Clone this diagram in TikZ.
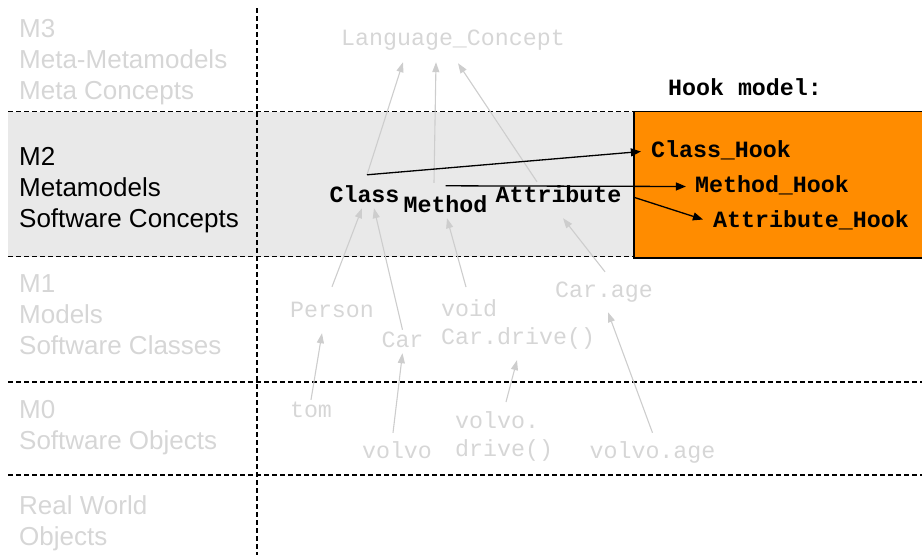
\documentclass[tikz,border=0pt]{standalone}
\usepackage{fontspec}
\setmainfont{Liberation Sans}
\setmonofont{Liberation Mono}
\usetikzlibrary{positioning,arrows.meta}

\definecolor{fadegray}{HTML}{D6D6D6}
\definecolor{fadeline}{HTML}{CDCDCD}
\definecolor{bandgray}{HTML}{E9E9E9}
\definecolor{hookorange}{HTML}{FF8C00}

\begin{document}
\begin{tikzpicture}[x=1pt,y=-1pt,
	level/.style={anchor=base west, align=left, inner sep=0pt,
		font=\fontsize{26}{31}\selectfont},
	fade/.style={text=fadegray},
	mono/.style={anchor=base, inner sep=1pt, text height=16pt, text depth=5pt,
		font=\ttfamily\fontsize{23.3}{28}\selectfont},
	concept/.style={mono, font=\ttfamily\bfseries\fontsize{23.3}{28}\selectfont},
	inst/.style={mono, text=fadegray},
	insttwo/.style={anchor=north west, align=left, inner sep=1pt, text=fadegray,
		font=\ttfamily\fontsize{23.3}{28}\selectfont},
	grid/.style={dash pattern=on 5pt off 3pt, line width=1.1pt},
	link/.style={draw=fadeline, line width=1.1pt, -{Triangle[length=10pt,width=7pt]}},
	hook/.style={draw=black, line width=1.3pt, -{Triangle[length=10pt,width=8pt]}}
	]
	\useasboundingbox (0,0) rectangle (922,555);
	\fill[bandgray] (8,111.5) rectangle (634,256.5);
	\foreach \y in {111.5,256.5,382,475}
		\draw[grid] (8,\y) -- (922,\y);
	\draw[grid] (257,8) -- (257,555);
	\draw[fill=hookorange, line width=1.3pt] (634,111.5) rectangle (930,258);

	\node (mthree) [level, fade] at (19,99) {M3\\Meta-Metamodels\\Meta Concepts};
	\node (mtwo) [level] at (19,227) {M2\\Metamodels\\Software Concepts};
	\node (mone) [level, fade] at (19,354) {M1\\Models\\Software Classes};
	\node (mzero) [level, fade] at (19,449) {M0\\Software Objects};
	\node (realworld) [level, fade] at (19,545) {Real World\\Objects};

	\node (lang) [inst] at (453,45) {Language\_Concept};
	\node (hookhead) [concept] at (745,95) {Hook model:};
	\node (class) [concept] at (364.5,202) {Class};
	\node (method) [concept] at (445.5,212) {Method};
	\node (attr) [concept] at (558.5,202) {Attribute};
	\node (classhook) [concept] at (721,157) {Class\_Hook};
	\node (methodhook) [concept] at (772,192) {Method\_Hook};
	\node (attrhook) [concept] at (811,227) {Attribute\_Hook};

	\node (person) [inst] at (332,317) {Person};
	\node (car) [inst] at (402.5,347) {Car};
	\node (voidcar) [insttwo] at (440,298) {void\\Car.drive()};
	\node (carage) [inst] at (604,297) {Car.age};
	\node (tom) [inst] at (311,417) {tom};
	\node (volvo) [inst] at (397,458) {volvo};
	\node (volvodrive) [insttwo] at (454,410) {volvo.\\drive()};
	\node (volvoage) [inst] at (652.5,458) {volvo.age};

	\coordinate (classtop) at ([xshift=2.5,yshift=10]class.north);
	\draw[link] (classtop) -- ([xshift=-50,yshift=-11]lang.south);
	\draw[link] ([xshift=-11.5,yshift=12]method.north) -- ([xshift=-17,yshift=-11]lang.south);
	\draw[link] ([xshift=-21.5,yshift=3]attr.north) -- ([xshift=5,yshift=-12]lang.south);

	\draw[link] ([yshift=13]person.north) -- ([xshift=-2.5]class.south);
	\draw[link] (car.north) -- ([xshift=9.5]class.south);
	\draw[link] ([xshift=26,yshift=11]voidcar.north west) -- ([xshift=1.5]method.south);
	\draw[link] ([xshift=1,yshift=8]carage.north) -- ([xshift=4.5,yshift=-10]attr.south);

	\draw[link] (tom.north) -- ([xshift=-10,yshift=-10]person.south);
	\draw[link] ([xshift=-4,yshift=8]volvo.north) -- (car.south);
	\draw[link] ([xshift=52,yshift=8]volvodrive.north west) -- ([xshift=77,yshift=-10]voidcar.south west);
	\draw[link] ([yshift=8]volvoage.north) -- ([xshift=4,yshift=-9]carage.south);

	\draw[hook] (classtop) -- ([xshift=-9]classhook.west);
	\draw[hook] ([yshift=9]method.north) -- ([xshift=-8]methodhook.west);
	\draw[hook] ([xshift=12,yshift=-1]attr.east) -- ([xshift=-9,yshift=2]attrhook.west);
\end{tikzpicture}
\end{document}
